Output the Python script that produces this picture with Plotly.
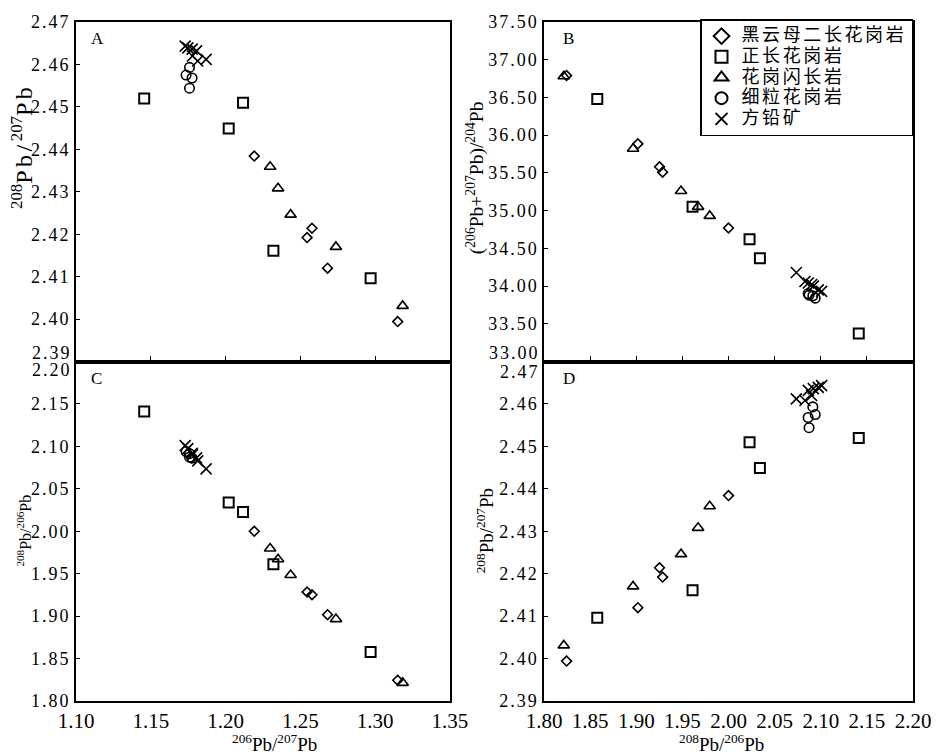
import plotly.graph_objects as go

# ---------------- data ----------------
groups = ["黑云母二长花岗岩", "正长花岗岩", "花岗闪长岩", "细粒花岗岩", "方铅矿"]

# 黑云母二长花岗岩 (biotite monzogranite)
bt_r67 = [1.2192, 1.2578, 1.2545, 1.2682, 1.3151]      # 206Pb/207Pb
bt_r87 = [2.4384, 2.4214, 2.4192, 2.4120, 2.3994]      # 208Pb/207Pb
bt_r86 = [2.0000, 1.9252, 1.9285, 1.9017, 1.8244]      # 208Pb/206Pb
bt_rs = [34.77, 35.58, 35.51, 35.885, 36.79]           # (206Pb+207Pb)/204Pb

# 正长花岗岩 (syenogranite)
sg_r67 = [1.1456, 1.2117, 1.2021, 1.2320, 1.2970]
sg_r87 = [2.4520, 2.4510, 2.4449, 2.4161, 2.4096]
sg_r86 = [2.1412, 2.0228, 2.0340, 1.9610, 1.8577]
sg_rs = [33.37, 34.62, 34.37, 35.05, 36.48]

# 花岗闪长岩 (granodiorite)
gd_r67 = [1.2298, 1.2351, 1.2435, 1.2738, 1.3184]
gd_r87 = [2.4359, 2.4308, 2.4246, 2.4170, 2.4031]
gd_r86 = [1.9796, 1.9670, 1.9485, 1.8965, 1.8214]
gd_rs = [34.93, 35.05, 35.26, 35.82, 36.78]

# 细粒花岗岩 (fine-grained granite)
fg_r67 = [1.1759, 1.1736, 1.1776, 1.1759]
fg_r87 = [2.4593, 2.4575, 2.4568, 2.4544]
fg_r86 = [2.0914, 2.0940, 2.0863, 2.0873]
fg_rs = [33.87, 33.84, 33.90, 33.88]

# 方铅矿 (galena)
gn_r67 = [1.1870, 1.1730, 1.1748, 1.1777, 1.1806, 1.1779, 1.1814]
gn_r87 = [2.4612, 2.4643, 2.4639, 2.4636, 2.4632, 2.4620, 2.4608]
gn_r86 = [2.0735, 2.1009, 2.0973, 2.0919, 2.0865, 2.0901, 2.0829]
gn_rs = [34.18, 33.93, 33.95, 34.00, 34.04, 34.02, 34.06]

# tick labels
ticks_r67 = ["1.10", "1.15", "1.20", "1.25", "1.30", "1.35"]
ticks_r86x = ["1.80", "1.85", "1.90", "1.95", "2.00", "2.05", "2.10", "2.15", "2.20"]
ticks_r87 = ["2.39", "2.40", "2.41", "2.42", "2.43", "2.44", "2.45", "2.46", "2.47"]
ticks_rs = ["33.00", "33.50", "34.00", "34.50", "35.00", "35.50", "36.00", "36.50", "37.00", "37.50"]
ticks_r86y = ["1.80", "1.85", "1.90", "1.95", "2.00", "2.05", "2.10", "2.15", "2.20"]

panel_labels = ["A", "B", "C", "D"]

# ---------------- styling ----------------
SERIF = "Liberation Serif"
CJK = "Noto Sans CJK SC"
BLACK = "black"

series = [
    dict(name=groups[0], symbol="diamond-open", size=7.5, lw=1.6,
         r67=bt_r67, r87=bt_r87, r86=bt_r86, rs=bt_rs),
    dict(name=groups[1], symbol="square-open", size=10, lw=2,
         r67=sg_r67, r87=sg_r87, r86=sg_r86, rs=sg_rs),
    dict(name=groups[2], symbol="triangle-up-open", size=10, lw=1.6,
         r67=gd_r67, r87=gd_r87, r86=gd_r86, rs=gd_rs),
    dict(name=groups[3], symbol="circle-open", size=9.5, lw=1.6,
         r67=fg_r67, r87=fg_r87, r86=fg_r86, rs=fg_rs),
    dict(name=groups[4], symbol="x-thin-open", size=11, lw=1.6,
         r67=gn_r67, r87=gn_r87, r86=gn_r86, rs=gn_rs),
]

panels = [  # (xaxis, yaxis, xfield, yfield)
    ("x", "y", "r67", "r87"),
    ("x2", "y2", "r86", "rs"),
    ("x3", "y3", "r67", "r86"),
    ("x4", "y4", "r86", "r87"),
]

fig = go.Figure()
for pi, (xa, ya, xf, yf) in enumerate(panels):
    for s in series:
        fig.add_trace(go.Scatter(
            x=s[xf], y=s[yf], xaxis=xa, yaxis=ya, mode="markers",
            name='<span style="font-size:18px;letter-spacing:2.6px">%s</span>' % s["name"],
            legendgroup=s["name"], showlegend=(pi == 1),
            marker=dict(symbol=s["symbol"], size=s["size"], color=BLACK,
                        line=dict(color=BLACK, width=s["lw"])),
            hoverinfo="x+y",
        ))


def sp(t, ls=2):
    return '<span style="letter-spacing:%spx">%s</span>' % (ls, t)


LW = 1.6
common = dict(showline=True, linecolor=BLACK, linewidth=LW, mirror=True,
              showgrid=False, zeroline=False, ticks="inside", tickcolor=BLACK,
              tickwidth=1.2)

XL = [0, 0.4467]
XR = [0.5592, 1]
YT = [0.5, 1]
YB = [0, 0.5]

yfont = dict(family=SERIF, size=18, color=BLACK)
xfont = dict(family=SERIF, size=21, color=BLACK)


def yticktext(lbls, blank):
    return [("" if l in blank else sp(l)) for l in lbls]


fig.update_layout(
    xaxis=dict(domain=XL, anchor="y", range=[1.10, 1.35],
               tickvals=[float(v) for v in ticks_r67[1:-1]], showticklabels=False,
               ticklen=6, **common),
    yaxis=dict(domain=YT, anchor="x", range=[2.39, 2.47],
               tickvals=[float(v) for v in ticks_r87], ticktext=yticktext(ticks_r87, ["2.39"]),
               ticklen=4, tickfont=yfont, **common),
    xaxis2=dict(domain=XR, anchor="y2", range=[1.80, 2.20],
                tickvals=[float(v) for v in ticks_r86x[1:-1]], showticklabels=False,
                ticklen=6, **common),
    yaxis2=dict(domain=YT, anchor="x2", range=[33.0, 37.5],
                tickvals=[float(v) for v in ticks_rs], ticktext=yticktext(ticks_rs, ["33.00"]),
                ticklen=4, tickfont=yfont, **common),
    xaxis3=dict(domain=XL, anchor="y3", range=[1.10, 1.35],
                tickvals=[float(v) for v in ticks_r67], ticktext=ticks_r67,
                ticklen=0, tickfont=xfont, **common),
    yaxis3=dict(domain=YB, anchor="x3", range=[1.80, 2.20],
                tickvals=[float(v) for v in ticks_r86y], ticktext=yticktext(ticks_r86y, ["2.20"]),
                ticklen=4, tickfont=yfont, **common),
    xaxis4=dict(domain=XR, anchor="y4", range=[1.80, 2.20],
                tickvals=[float(v) for v in ticks_r86x], ticktext=ticks_r86x,
                ticklen=0, tickfont=xfont, **common),
    yaxis4=dict(domain=YB, anchor="x4", range=[2.39, 2.47],
                tickvals=[float(v) for v in ticks_r87], ticktext=yticktext(ticks_r87, ["2.47"]),
                ticklen=4, tickfont=yfont, **common),
)

ann = []
# shifted edge tick labels (avoid overlap between stacked panels)
for xr, yr, val, lbl, shift in [("x domain", "y", 2.39, "2.39", 9),
                                ("x3 domain", "y3", 2.20, "2.20", -8),
                                ("x2 domain", "y2", 33.0, "33.00", 9),
                                ("x4 domain", "y4", 2.47, "2.47", -10)]:
    ann.append(dict(xref=xr, yref=yr, x=0, y=val, text=sp(lbl), showarrow=False,
                    xanchor="right", yanchor="middle", xshift=-2, yshift=shift,
                    font=yfont))

# panel letters
for lbl, xr, yr, xs in zip(panel_labels, ["x domain", "x2 domain", "x3 domain", "x4 domain"],
                           ["y domain", "y2 domain", "y3 domain", "y4 domain"],
                           [13, 17, 13, 17]):
    ann.append(dict(xref=xr, yref=yr, x=0, y=1, text=lbl, showarrow=False,
                    xanchor="left", yanchor="top", xshift=xs, yshift=-5,
                    font=dict(family=SERIF, size=17, color=BLACK)))

# axis titles
ann += [
    dict(xref="paper", yref="paper", x=0, y=0.816, xshift=-54,
         text='<sup>208</sup><span style="letter-spacing:3.5px">Pb/</span><sup>207</sup><span style="letter-spacing:3.5px">Pb</span>',
         textangle=-90, showarrow=False, xanchor="center", yanchor="middle",
         font=dict(family=SERIF, size=24, color=BLACK)),
    dict(xref="paper", yref="paper", x=0, y=0.251, xshift=-52, text="<sup>208</sup>Pb/<sup>206</sup>Pb",
         textangle=-90, showarrow=False, xanchor="center", yanchor="middle",
         font=dict(family=SERIF, size=16, color=BLACK)),
    dict(xref="x2 domain", yref="paper", x=0, y=0.770, xshift=-69,
         text="(<sup>206</sup>Pb+<sup>207</sup>Pb)/<sup>204</sup>Pb",
         textangle=-90, showarrow=False, xanchor="center", yanchor="middle",
         font=dict(family=SERIF, size=19.5, color=BLACK)),
    dict(xref="x4 domain", yref="paper", x=0, y=0.250, xshift=-59,
         text="<sup>208</sup>Pb/<sup>207</sup>Pb",
         textangle=-90, showarrow=False, xanchor="center", yanchor="middle",
         font=dict(family=SERIF, size=19, color=BLACK)),
    dict(xref="x3 domain", yref="paper", x=0.53, y=0, yshift=-42,
         text="<sup>206</sup>Pb/<sup>207</sup>Pb", showarrow=False,
         xanchor="center", yanchor="middle", font=dict(family=SERIF, size=19, color=BLACK)),
    dict(xref="x4 domain", yref="paper", x=0.482, y=0, yshift=-42,
         text="<sup>208</sup>Pb/<sup>206</sup>Pb", showarrow=False,
         xanchor="center", yanchor="middle", font=dict(family=SERIF, size=19, color=BLACK)),
]

fig.update_layout(
    annotations=ann,
    width=943, height=755,
    margin=dict(l=76, r=23, t=17, b=54),
    paper_bgcolor="white", plot_bgcolor="white",
    font=dict(family=SERIF, color=BLACK),
    showlegend=True,
    legend=dict(x=1, y=1.004, xanchor="right", yanchor="top", bordercolor=BLACK,
                borderwidth=1.5, bgcolor="white", tracegroupgap=0,
                font=dict(family=CJK, size=13.6, color=BLACK), itemsizing="constant"),
)

fig.write_html("out.html", config={"displayModeBar": False},
               post_script="document.body.style.margin='0px';document.body.style.overflow='hidden';")
